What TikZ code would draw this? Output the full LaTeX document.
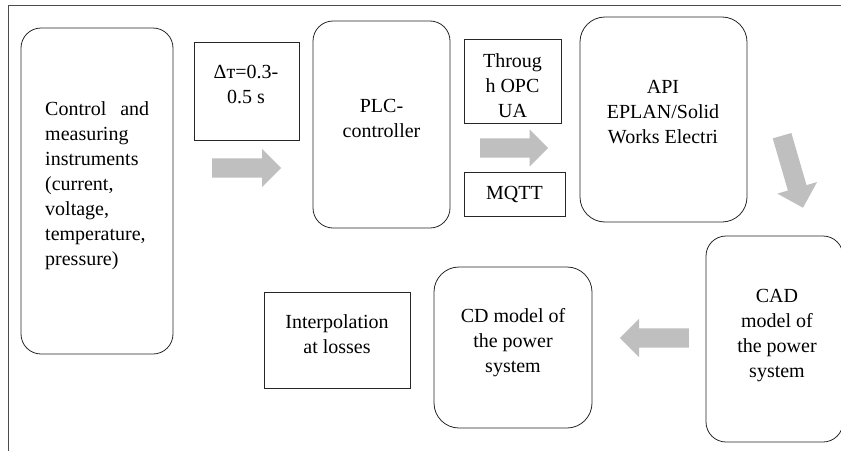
\documentclass[tikz,border=0pt]{standalone}
\usepackage{fontspec}
\setmainfont{Liberation Serif}
\usetikzlibrary{shapes.arrows}
\tikzset{
  roundbox/.style={draw=black!85, line width=0.8pt, rounded corners=20pt, inner sep=0pt},
  sqbox/.style={draw=black!85, line width=0.8pt, inner sep=0pt},
  boxtext/.style={inner sep=0pt, font=\fontsize{20}{25}\selectfont},
  grayarrow/.style={single arrow, fill=black!25, draw=none, inner xsep=0pt, inner ysep=9.5pt,
    single arrow head extend=9.5pt, single arrow tip angle=90,
    minimum height=69pt, anchor=tail},
}

\begin{document}
\begin{tikzpicture}[x=1pt, y=-1pt]
		%%%%% START %%%%%
		\useasboundingbox (0, 0) rectangle (841, 450);
		\clip (0, 0) rectangle (841, 450);

		\draw[black!70, line width=0.8pt] (8, 452) -- (8, 5) -- (843, 5);

		% boxes
		\node[roundbox, minimum width=152pt, minimum height=326pt] (ctrl) at (97, 191) {};
		\node[sqbox, minimum width=105pt, minimum height=98pt] (dt) at (246.5, 91) {};
		\node[roundbox, minimum width=137pt, minimum height=207pt] (plc) at (381.5, 124.5) {};
		\node[sqbox, minimum width=97pt, minimum height=84pt] (opc) at (512.5, 81) {};
		\node[sqbox, minimum width=101pt, minimum height=44pt] (mqtt) at (514.5, 194) {};
		\node[roundbox, rounded corners=25pt, minimum width=167pt, minimum height=205pt] (api) at (663.5, 119.5) {};
		\node[roundbox, minimum width=137pt, minimum height=206pt] (cad) at (774.5, 339) {};
		\node[roundbox, rounded corners=25pt, minimum width=158pt, minimum height=161pt] (cd) at (513, 347.5) {};
		\node[sqbox, minimum width=146pt, minimum height=96pt] (interp) at (337, 340) {};

		% texts
		\node[boxtext, anchor=north west, align=left] (ctrltxt) at (45, 97.5)
			{\strut\hbox to 104pt{Control\hfill and}\\measuring\\instruments\\(current,\\voltage,\\temperature,\\pressure)};
		\node[boxtext, anchor=north, align=center] (dttxt) at (246, 60.5) {\strut Δт=0.3-\\0.5 s};
		\node[boxtext, anchor=north, align=center] (plctxt) at (381.5, 94.5) {\strut PLC-\\controller};
		\node[boxtext, anchor=north, align=center] (opctxt) at (512.5, 49.5) {\strut Throug\\h OPC\\UA};
		\node[boxtext, anchor=north, align=center] (mqtttxt) at (514.5, 181.5) {\strut MQTT};
		\node[boxtext, anchor=north, align=center] (apitxt) at (663, 75.5) {\strut API\\EPLAN/Solid\\Works Electri};
		\node[boxtext, anchor=north, align=center] (cadtxt) at (777, 284.5) {\strut CAD\\model of\\the power\\system};
		\node[boxtext, anchor=north, align=center] (cdtxt) at (513, 304.5) {\strut CD model of\\the power\\system};
		\node[boxtext, anchor=north, align=center] (interptxt) at (337, 310.5) {\strut Interpolation\\at losses};

		% arrows
		\node[grayarrow] (arr1) at (212, 168) {};
		\node[grayarrow, minimum height=68pt, single arrow head extend=9pt] (arr2) at (480, 148) {};
		\node[grayarrow, minimum height=75pt, single arrow head extend=11pt, rotate=-73.8] (arr3) at (782, 135.5) {};
		\node[grayarrow, rotate=180] (arr4) at (689, 338) {};
		%%%%% END %%%%%
\end{tikzpicture}
\end{document}
